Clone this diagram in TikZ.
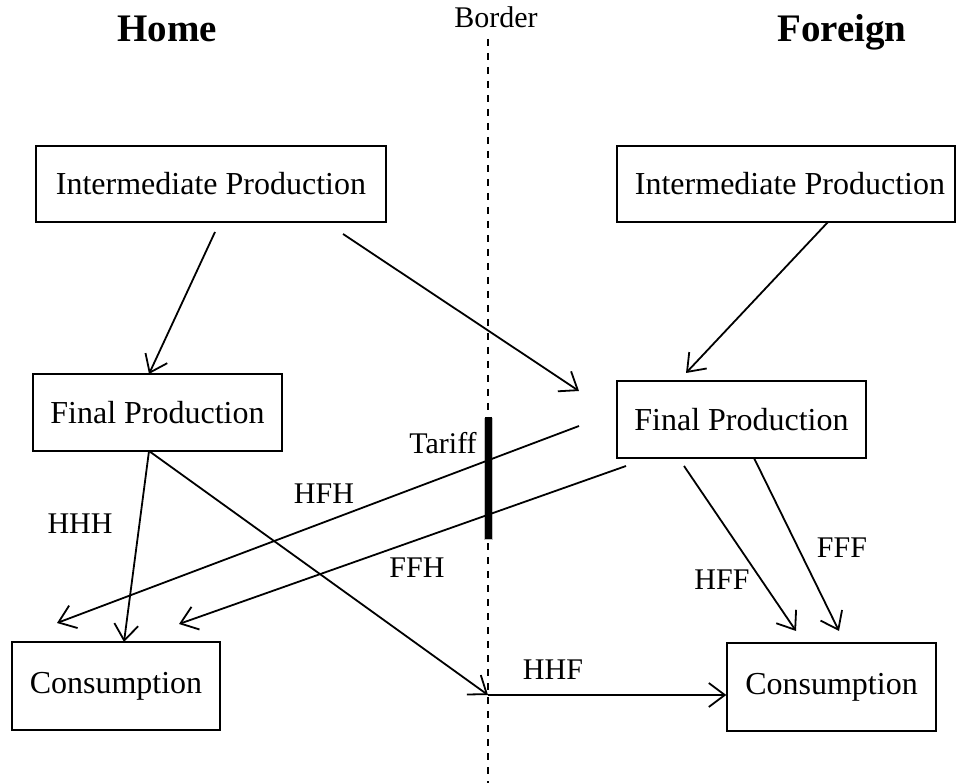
\documentclass[tikz,border=0pt]{standalone}
\usepackage{fontspec}
\setmainfont{Liberation Serif}
\usetikzlibrary{arrows.meta}
\begin{document}
\begin{tikzpicture}[x=1pt,y=-1pt,
  box/.style={draw,line width=1.4pt,inner sep=0pt,font=\fontsize{32}{36}\selectfont},
  lbl/.style={inner sep=0pt,font=\fontsize{30}{36}\selectfont},
  ttl/.style={inner sep=0pt,anchor=base,font=\fontsize{39}{44}\selectfont\bfseries},
  flow/.style={line width=1.8pt,-{Straight Barb[length=16pt,width=24pt,line width=1.8pt]}},
  plain/.style={line width=1.8pt}]
\useasboundingbox (0,0) rectangle (959,783);
% titles
\node[ttl] (home) at (167,42) {Home};
\node[ttl] (foreign) at (842,42) {Foreign};
\node[inner sep=0pt,anchor=base,font=\fontsize{30}{36}\selectfont] (border) at (496,28) {Border};
% border line
\coordinate (btop) at (488,39);
\coordinate (bbot) at (488,783);
\draw[line width=2pt,dash pattern=on 7pt off 7pt] (btop) -- (bbot);
% boxes
\node[box,minimum width=350pt,minimum height=76pt] (hip) at (211,184) {Intermediate Production};
\node[box,minimum width=338pt,minimum height=76pt] (fip) at (786,184) {\hspace*{8pt}Intermediate Production};
\node[box,minimum width=249pt,minimum height=77pt] (hfp) at (157.5,412.5) {Final Production};
\node[box,minimum width=249pt,minimum height=77pt] (ffp) at (741.5,419.5) {Final Production};
\node[box,minimum width=208pt,minimum height=88pt] (hc) at (116,686) {Consumption};
\node[box,minimum width=209pt,minimum height=88pt] (fc) at (831.5,687) {Consumption};
% tariff bar
\coordinate (tt) at (488,417);
\coordinate (tb) at (488,539);
\draw[line width=9pt,black!25] ([xshift=0.8pt,yshift=-1pt]tt) -- ([xshift=0.8pt,yshift=-1pt]tb);
\draw[line width=7pt] (tt) -- (tb);
% connector end points
\coordinate (a1s) at (215,232);
\coordinate (a1e) at (149,374);
\coordinate (a2s) at (343,234);
\coordinate (a2e) at (579,391);
\coordinate (a3s) at (828,222);
\coordinate (a3e) at (686,373);
\coordinate (hfhs) at (579,426);
\coordinate (hfhe) at (57,623);
\coordinate (ffhs) at (626,466);
\coordinate (ffhe) at (179,624);
\coordinate (hhhs) at (149,451);
\coordinate (hhhe) at (124,642);
\coordinate (bp) at (488,695);
\coordinate (hffs) at (684,466);
\coordinate (hffe) at (796,631);
\coordinate (fffs) at (754,458);
\coordinate (fffe) at (839,631);
% connectors
\draw[flow] (a1s) -- (a1e);
\draw[flow] (a2s) -- (a2e);
\draw[flow] (a3s) -- (a3e);
\draw[flow] (hfhs) -- (hfhe);
\draw[flow] (ffhs) -- (ffhe);
\draw[flow] (hhhs) -- (hhhe);
\draw[flow] (hhhs) -- (bp);
\draw[flow] (bp) -- (bp -| fc.west);
\draw[flow] (hffs) -- (hffe);
\draw[flow] (fffs) -- (fffe);
% labels
\node[lbl] (lhhh) at (80,524) {HHH};
\node[lbl] (lhfh) at (324,494) {HFH};
\node[lbl] (ltar) at (443,443) {Tariff};
\node[lbl] (lffh) at (417,568) {FFH};
\node[lbl] (lhhf) at (553,670) {HHF};
\node[lbl] (lhff) at (722,580) {HFF};
\node[lbl] (lfff) at (842,548) {FFF};
\end{tikzpicture}
\end{document}
